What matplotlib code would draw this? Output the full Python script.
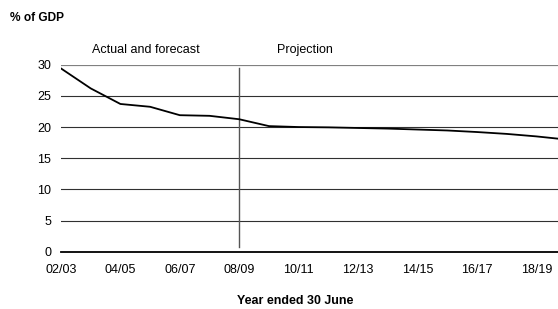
import matplotlib
matplotlib.use("Agg")
import matplotlib.pyplot as plt

plt.rcParams['font.family'] = ['Liberation Sans', 'DejaVu Sans']

years = ["02/03", "03/04", "04/05", "05/06", "06/07", "07/08", "08/09", "09/10",
         "10/11", "11/12", "12/13", "13/14", "14/15", "15/16", "16/17", "17/18",
         "18/19", "19/20"]
values = [29.4, 26.2, 23.7, 23.25, 21.9, 21.8, 21.25, 20.15, 20.0, 19.95,
          19.85, 19.75, 19.6, 19.45, 19.2, 18.9, 18.5, 18.0]
tick_labels = years[::2][:9]
yticks = [0, 5, 10, 15, 20, 25, 30]
divider_year = "08/09"
divider_range = [0.8, 29.5]

fig = plt.figure(figsize=(5.58, 3.09), dpi=100)
ax = fig.add_axes([0.1093, 0.1854, 1 - 0.1093, 0.7906 - 0.1854])

x = list(range(len(years)))
ax.set_xlim(0, 16.73)
ax.set_ylim(0, 30)

for yv in yticks[1:-1]:
    ax.axhline(yv, color='#303030', lw=0.8, zorder=1)
ax.axhline(30, color='#808080', lw=1.6, zorder=1)
ax.axhline(0, color='#000000', lw=1.3, zorder=1, clip_on=False)

dx = years.index(divider_year)
ax.plot([dx, dx], divider_range, color='#555555', lw=1.0, zorder=2)

ax.plot(x, values, color='black', lw=1.3, zorder=3)

for s in ax.spines.values():
    s.set_visible(False)

ax.set_yticks(yticks)
ax.set_yticklabels([str(v) for v in yticks], fontsize=9)
ax.set_xticks(x[::2][:9])
ax.set_xticklabels(tick_labels, fontsize=9)
ax.tick_params(axis='both', length=0)
ax.tick_params(axis='y', pad=7)
ax.tick_params(axis='x', pad=8.5)

fig.text(10 / 558, 1 - 18 / 309, "% of GDP", fontsize=8.6, fontweight='bold',
         ha='left', va='center')
fig.text(295 / 558, 1 - 300.5 / 309, "Year ended 30 June", fontsize=8.9,
         fontweight='bold', ha='center', va='center')
fig.text(145.5 / 558, 1 - 50 / 309, "Actual and forecast", fontsize=9,
         ha='center', va='center')
fig.text(277 / 558, 1 - 50 / 309, "Projection", fontsize=9,
         ha='left', va='center')

fig.savefig("out.png", dpi=100)
